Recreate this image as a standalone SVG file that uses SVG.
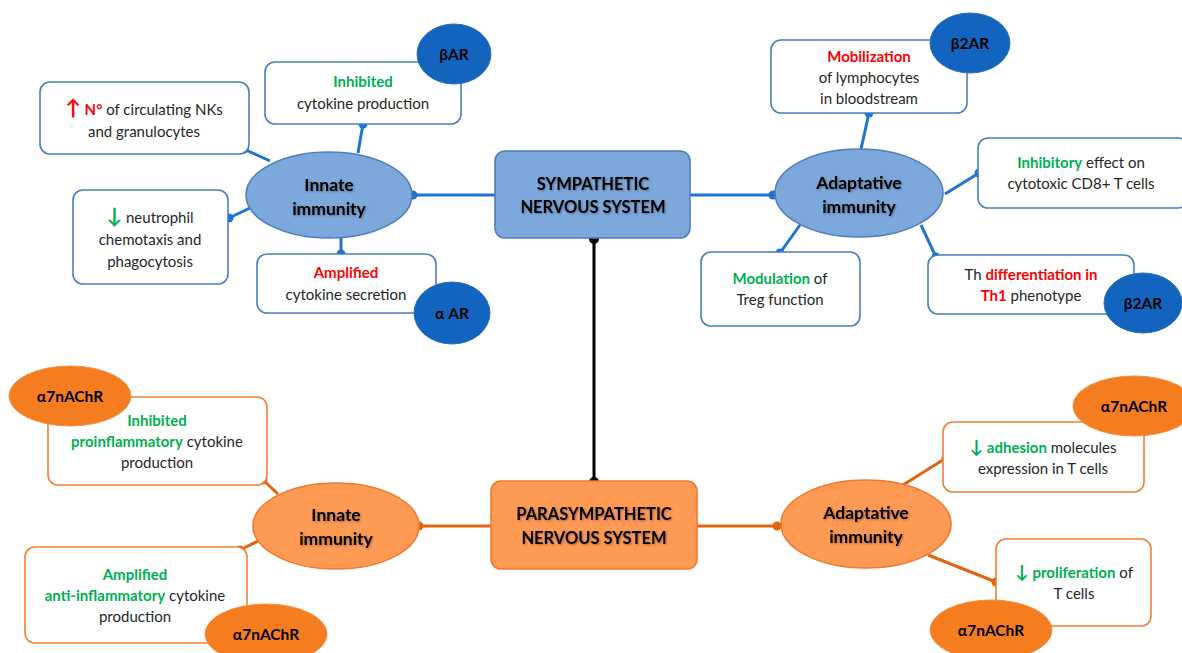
<svg xmlns="http://www.w3.org/2000/svg" width="1182" height="653" viewBox="0 0 1182 653">
<defs>
<style>
text{font-family:Lato,"Liberation Sans",sans-serif;font-size:15px;text-anchor:middle;fill:#262626}
.g{fill:#00B050;font-weight:bold}
.r{fill:#FF0000;font-weight:bold}
.k{fill:#000;font-weight:bold;font-size:15.5px}
.lbl{font-size:17.5px;font-weight:bold;fill:#000;filter:url(#sh)}
.sys{font-size:16.5px}
.bbox{fill:#fff;stroke:#4A7EC2;stroke-width:1.6}
.obox{fill:#fff;stroke:#F08035;stroke-width:1.6}
.bfill{fill:#7DA8DC;stroke:#4F7EC0;stroke-width:1.6}
.ofill{fill:#FF9A55;stroke:#F07A2E;stroke-width:1.6}
.bdark{fill:#1264BE;stroke:#2D6FB8;stroke-width:1}
.odark{fill:#F67C20;stroke:#F39045;stroke-width:1}
.bl{stroke:#1E74D0;stroke-width:3;fill:none}
.ol{stroke:#E2640F;stroke-width:3;fill:none}
.bd{fill:#1E74D0}
.od{fill:#E2640F}
</style>
<filter id="sh" x="-10%" y="-30%" width="130%" height="160%">
<feDropShadow dx="1" dy="1" stdDeviation="0.8" flood-color="#000" flood-opacity="0.35"/>
</filter>
</defs>

<g id="connectors">
<line class="bl" x1="412" y1="195" x2="495" y2="195"/>
<circle class="bd" cx="413" cy="195" r="4.5"/>
<line class="bl" x1="690" y1="195" x2="775" y2="195"/>
<circle class="bd" cx="773" cy="195" r="4.5"/>
<line class="bl" x1="363" y1="124" x2="358" y2="153"/>
<circle class="bd" cx="363" cy="124" r="4.5"/>
<line class="bl" x1="244" y1="149" x2="270" y2="161"/>
<circle class="bd" cx="244" cy="149" r="4.5"/>
<line class="bl" x1="229" y1="218" x2="250" y2="208"/>
<circle class="bd" cx="229" cy="218" r="4.5"/>
<line class="bl" x1="341" y1="254" x2="341" y2="238"/>
<circle class="bd" cx="341" cy="254" r="4.5"/>
<line class="bl" x1="869" y1="113" x2="861" y2="149"/>
<circle class="bd" cx="869" cy="113" r="4.5"/>
<line class="bl" x1="979" y1="173" x2="945" y2="194"/>
<circle class="bd" cx="979" cy="173" r="4.5"/>
<line class="bl" x1="780" y1="253" x2="800" y2="225"/>
<circle class="bd" cx="780" cy="253" r="4.5"/>
<line class="bl" x1="936" y1="257" x2="921" y2="225"/>
<circle class="bd" cx="936" cy="257" r="4.5"/>

<line x1="594" y1="238" x2="594" y2="482" stroke="#000" stroke-width="3"/>
<circle cx="594" cy="239" r="5" fill="#000"/>
<circle cx="594" cy="482" r="5" fill="#000"/>

<line class="ol" x1="418" y1="526" x2="492" y2="526"/>
<circle class="od" cx="419" cy="526" r="4.5"/>
<line class="ol" x1="697" y1="526" x2="780" y2="526"/>
<circle class="od" cx="777" cy="526" r="4.5"/>
<line class="ol" x1="263" y1="480" x2="278" y2="494"/>
<circle class="od" cx="263" cy="480" r="4.5"/>
<line class="ol" x1="240" y1="550" x2="258" y2="541"/>
<circle class="od" cx="240" cy="550" r="4.5"/>
<line class="ol" x1="946" y1="458" x2="903" y2="485"/>
<circle class="od" cx="946" cy="458" r="4.5"/>
<line class="ol" x1="996" y1="582" x2="928" y2="555"/>
<circle class="od" cx="996" cy="582" r="4.5"/>
</g>

<g id="sns">
<rect class="bfill" x="495" y="151" width="195" height="87" rx="10"/>
<text class="lbl sys" x="593" y="190">SYMPATHETIC</text>
<text class="lbl sys" x="593" y="213">NERVOUS SYSTEM</text>
</g>

<g id="pns">
<rect class="ofill" x="491" y="481" width="206" height="88" rx="10"/>
<text class="lbl sys" x="594" y="520">PARASYMPATHETIC</text>
<text class="lbl sys" x="594" y="544">NERVOUS SYSTEM</text>
</g>

<g id="sns-innate">
<ellipse class="bfill" cx="329" cy="195" rx="83" ry="43"/>
<text class="lbl" x="329" y="191">Innate</text>
<text class="lbl" x="329" y="215">immunity</text>
</g>

<g id="sns-adaptive">
<ellipse class="bfill" cx="859" cy="193" rx="84" ry="44"/>
<text class="lbl" x="859" y="189">Adaptative</text>
<text class="lbl" x="859" y="213">immunity</text>
</g>

<g id="pns-innate">
<ellipse class="ofill" cx="336" cy="526" rx="83" ry="43"/>
<text class="lbl" x="336" y="521">Innate</text>
<text class="lbl" x="336" y="545">immunity</text>
</g>

<g id="pns-adaptive">
<ellipse class="ofill" cx="866" cy="524" rx="85" ry="44"/>
<text class="lbl" x="866" y="519">Adaptative</text>
<text class="lbl" x="866" y="543">immunity</text>
</g>

<g id="nk-box">
<rect class="bbox" x="40" y="82" width="209" height="72" rx="10"/>
<text x="144" y="115"><tspan class="r" font-size="21">↑</tspan><tspan class="r"> N°</tspan> of circulating NKs</text>
<text x="144" y="137">and granulocytes</text>
</g>

<g id="inhibited-box">
<rect class="bbox" x="265" y="62" width="196" height="62" rx="10"/>
<text x="363" y="87" class="g">Inhibited</text>
<text x="363" y="109">cytokine production</text>
</g>

<g id="bar">
<ellipse class="bdark" cx="454" cy="54" rx="37" ry="30"/>
<text class="k" x="454" y="60">βAR</text>
</g>

<g id="neutro-box">
<rect class="bbox" x="73" y="190" width="155" height="94" rx="10"/>
<text x="150" y="223"><tspan class="g" font-size="21">↓</tspan> neutrophil</text>
<text x="150" y="245">chemotaxis and</text>
<text x="150" y="267">phagocytosis</text>
</g>

<g id="amplified-box">
<rect class="bbox" x="257" y="254" width="179" height="59" rx="10"/>
<text x="346" y="278" class="r">Amplified</text>
<text x="346" y="300">cytokine secretion</text>
</g>

<g id="aar">
<ellipse class="bdark" cx="452" cy="313" rx="38" ry="31"/>
<text class="k" x="452" y="319">α AR</text>
</g>

<g id="mobil-box">
<rect class="bbox" x="771" y="40" width="196" height="73" rx="10"/>
<text x="869" y="62" class="r">Mobilization</text>
<text x="869" y="83">of lymphocytes</text>
<text x="869" y="104">in bloodstream</text>
</g>

<g id="b2ar-top">
<ellipse class="bdark" cx="970" cy="43" rx="40" ry="30"/>
<text class="k" x="970" y="49">β2AR</text>
</g>

<g id="inhibitory-box">
<rect class="bbox" x="978" y="138" width="210" height="70" rx="10"/>
<text x="1081" y="168"><tspan class="g">Inhibitory</tspan> effect on</text>
<text x="1081" y="189">cytotoxic CD8+ T cells</text>
</g>

<g id="modulation-box">
<rect class="bbox" x="701" y="252" width="159" height="74" rx="10"/>
<text x="780" y="284"><tspan class="g">Modulation</tspan> of</text>
<text x="780" y="305">Treg function</text>
</g>

<g id="th-box">
<rect class="bbox" x="928" y="255" width="206" height="59" rx="10"/>
<text x="1031" y="280">Th <tspan class="r">differentiation in</tspan></text>
<text x="1031" y="301"><tspan class="r">Th1</tspan> phenotype</text>
</g>

<g id="b2ar-bottom">
<ellipse class="bdark" cx="1143" cy="303" rx="39" ry="30"/>
<text class="k" x="1143" y="309">β2AR</text>
</g>

<g id="proinfl-box">
<rect class="obox" x="48" y="397" width="219" height="88" rx="10"/>
<text x="157" y="426" class="g">Inhibited</text>
<text x="157" y="447"><tspan class="g">proinflammatory</tspan> cytokine</text>
<text x="157" y="468">production</text>
</g>

<g id="a7-tl">
<ellipse class="odark" cx="70" cy="396" rx="61" ry="30"/>
<text class="k" x="70" y="402">α7nAChR</text>
</g>

<g id="antiinfl-box">
<rect class="obox" x="25" y="547" width="222" height="96" rx="10"/>
<text x="135" y="580" class="g">Amplified</text>
<text x="135" y="601"><tspan class="g">anti-inflammatory</tspan> cytokine</text>
<text x="135" y="622">production</text>
</g>

<g id="a7-bl">
<ellipse class="odark" cx="266" cy="634" rx="61" ry="30"/>
<text class="k" x="266" y="640">α7nAChR</text>
</g>

<g id="adhesion-box">
<rect class="obox" x="943" y="422" width="201" height="70" rx="10"/>
<text x="1043" y="453"><tspan class="g" font-size="18">↓</tspan> <tspan class="g">adhesion</tspan> molecules</text>
<text x="1043" y="474">expression in T cells</text>
</g>

<g id="a7-tr">
<ellipse class="odark" cx="1134" cy="406" rx="61" ry="30"/>
<text class="k" x="1134" y="412">α7nAChR</text>
</g>

<g id="prolif-box">
<rect class="obox" x="996" y="539" width="155" height="87" rx="10"/>
<text x="1074" y="578"><tspan class="g" font-size="18">↓</tspan> <tspan class="g">proliferation</tspan> of</text>
<text x="1074" y="599">T cells</text>
</g>

<g id="a7-br">
<ellipse class="odark" cx="991" cy="630" rx="61" ry="30"/>
<text class="k" x="991" y="636">α7nAChR</text>
</g>
</svg>
